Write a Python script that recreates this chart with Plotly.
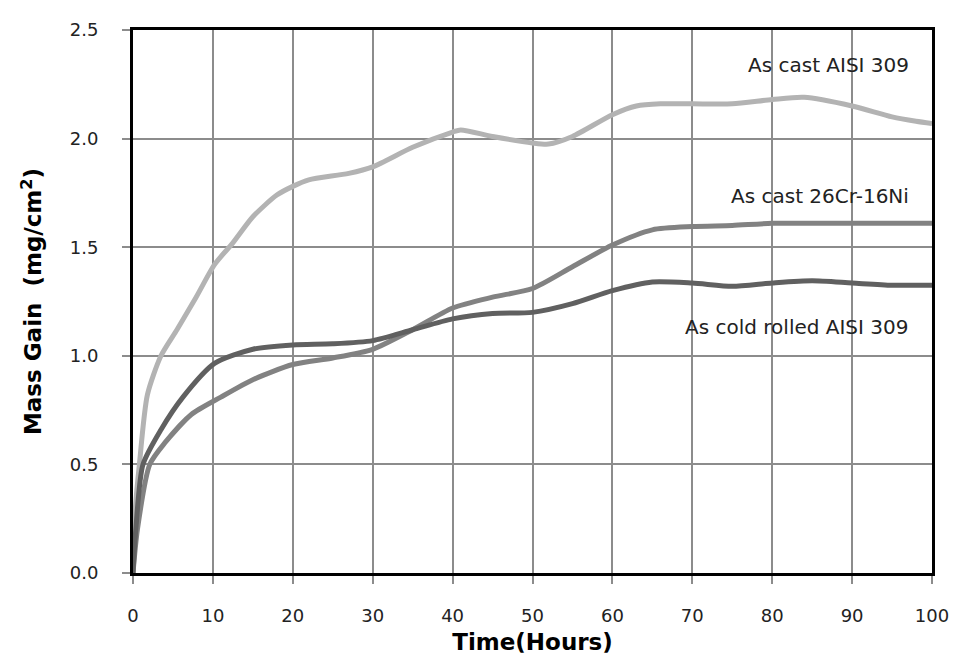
import plotly.graph_objects as go

hours_cast309 = [0, 0.3, 0.8, 1.8, 3.5, 5.5, 7.9, 10.2, 12.5, 15, 18, 20, 22, 27, 30, 35, 40, 41, 45, 50, 52, 55, 60, 63, 66, 70, 75, 80, 84, 90, 95, 98, 100]
gain_cast309 = [0, 0.30, 0.50, 0.82, 1.00, 1.12, 1.27, 1.42, 1.52, 1.64, 1.74, 1.78, 1.81, 1.84, 1.87, 1.96, 2.03, 2.04, 2.01, 1.98, 1.975, 2.01, 2.11, 2.15, 2.16, 2.16, 2.16, 2.18, 2.19, 2.15, 2.10, 2.08, 2.07]

hours_2616 = [0, 0.55, 2.1, 4, 7.3, 11, 15, 20, 25, 30, 35, 40, 45, 50, 55, 60, 65, 70, 75, 80, 90, 100]
gain_2616 = [0, 0.20, 0.50, 0.60, 0.73, 0.81, 0.89, 0.96, 0.99, 1.03, 1.12, 1.22, 1.27, 1.31, 1.41, 1.51, 1.58, 1.595, 1.60, 1.61, 1.61, 1.61]

hours_cold309 = [0, 0.35, 1.25, 3.5, 6.25, 10.2, 15, 20, 25, 30, 35, 40, 45, 50, 55, 60, 65, 70, 75, 80, 85, 90, 95, 100]
gain_cold309 = [0, 0.20, 0.50, 0.66, 0.81, 0.965, 1.03, 1.05, 1.055, 1.07, 1.12, 1.17, 1.195, 1.20, 1.24, 1.30, 1.34, 1.335, 1.32, 1.335, 1.345, 1.335, 1.325, 1.325]

series_names = ["As cast AISI 309", "As cast 26Cr-16Ni", "As cold rolled AISI 309"]
x_ticks = [0, 10, 20, 30, 40, 50, 60, 70, 80, 90, 100]
y_ticks = [0.0, 0.5, 1.0, 1.5, 2.0, 2.5]

fig = go.Figure()
fig.add_trace(go.Scatter(x=hours_cast309, y=gain_cast309, mode="lines", name=series_names[0],
                         line=dict(color="#b3b3b3", width=5, shape="spline", smoothing=0.7)))
fig.add_trace(go.Scatter(x=hours_2616, y=gain_2616, mode="lines", name=series_names[1],
                         line=dict(color="#828282", width=5, shape="spline", smoothing=0.7)))
fig.add_trace(go.Scatter(x=hours_cold309, y=gain_cold309, mode="lines", name=series_names[2],
                         line=dict(color="#606060", width=5, shape="spline", smoothing=0.7)))

font_family = "DejaVu Sans, sans-serif"
fig.update_layout(
    width=954, height=660,
    margin=dict(l=133, r=22, t=30, b=87),
    paper_bgcolor="white", plot_bgcolor="white",
    showlegend=False,
    font=dict(family=font_family, size=18, color="#222"),
    xaxis=dict(range=[0, 100], tickvals=x_ticks, showgrid=True, gridcolor="#8c8c8c", gridwidth=1.5,
               showline=True, linecolor="black", linewidth=3, mirror=True,
               ticks="outside", ticklen=8, tickcolor="#8c8c8c", tickwidth=1.5,
               ticklabelstandoff=16,
               zeroline=False, automargin=False,
               title=dict(text="<b>Time(Hours)</b>", font=dict(size=23, color="black"), standoff=10),
               tickfont=dict(size=18, color="#222")),
    yaxis=dict(range=[0, 2.5], tickvals=y_ticks, tickformat=".1f", showgrid=True, gridcolor="#8c8c8c", gridwidth=1.5,
               showline=True, linecolor="black", linewidth=3, mirror=True,
               ticks="outside", ticklen=8, tickcolor="#8c8c8c", tickwidth=1.5,
               ticklabelstandoff=20,
               zeroline=False, automargin=False,
               title=dict(text="<b>Mass Gain  (mg/cm<sup>2</sup>)</b>", font=dict(size=23, color="black"), standoff=22),
               tickfont=dict(size=18, color="#222")),
)

label_y = [2.34, 1.737, 1.134]
for name, yv in zip(series_names, label_y):
    fig.add_annotation(x=97.4, y=yv, text=name, showarrow=False, xanchor="right", yanchor="middle",
                       font=dict(size=20, color="#222", family=font_family))

fig.write_html("out.html", config={"displayModeBar": False},
               post_script="document.body.style.margin='0';document.body.style.padding='0';")
